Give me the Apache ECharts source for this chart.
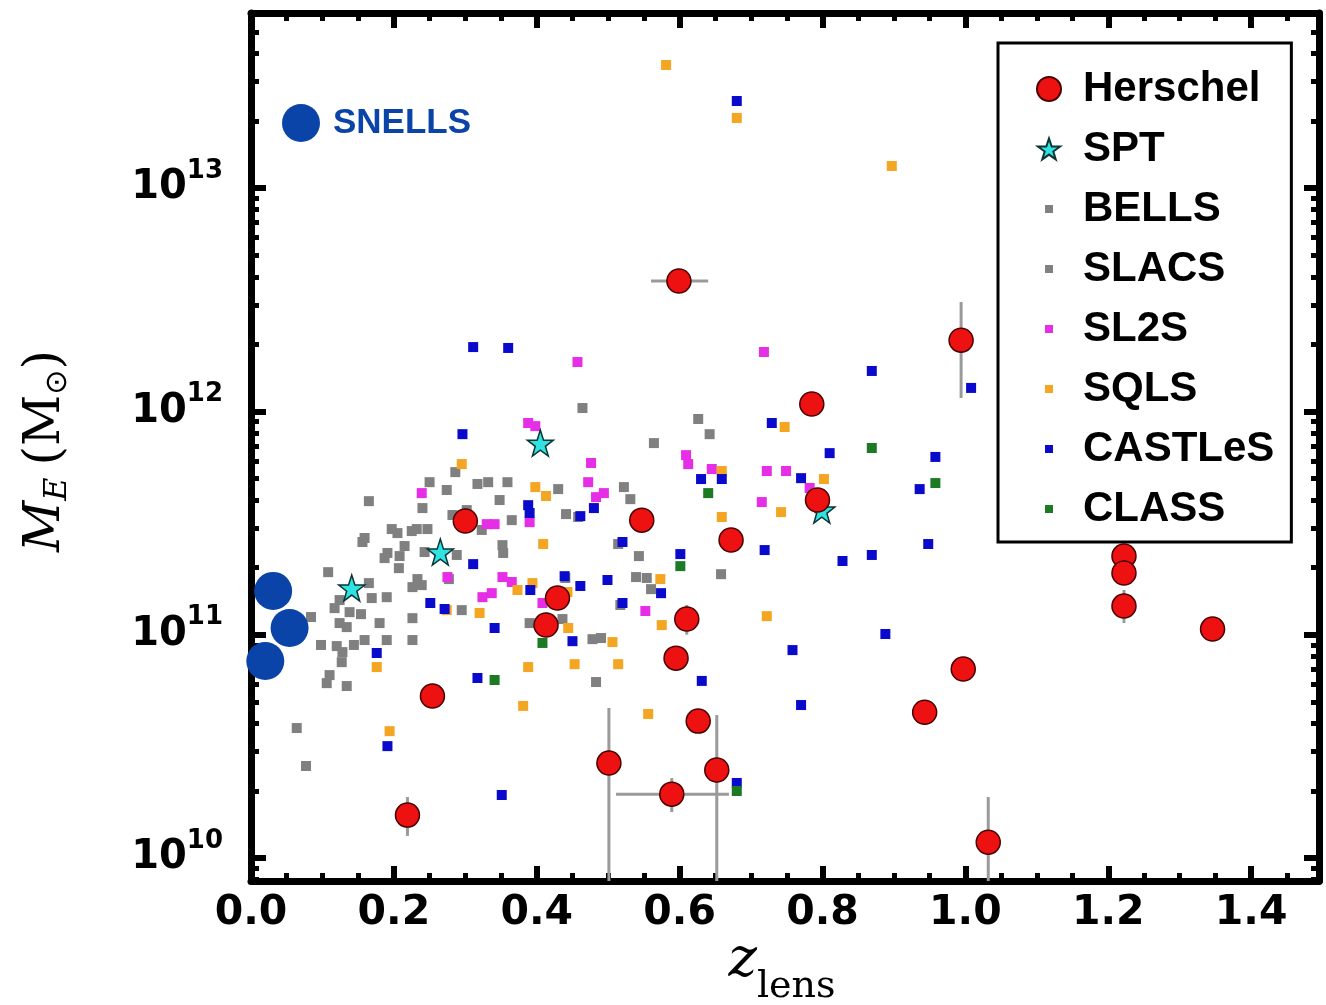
<!DOCTYPE html>
<html><head><meta charset="utf-8">
<script src="https://cdn.jsdelivr.net/npm/echarts@6/dist/echarts.min.js"></script>
<style>html,body{margin:0;padding:0;background:#fff}#c{width:1326px;height:1005px}</style>
</head><body><div id="c"></div>
<script>
// ---- axis ranges / ticks (z_lens, log10 M_E) ----
const X_MIN = 0, X_MAX = 1.495;
const Y_MIN = 9.897, Y_MAX = 13.784;
const xMajorTicks = [0, 0.2, 0.4, 0.6, 0.8, 1.0, 1.2, 1.4];
const xMinorTicks = [0.05,0.1,0.15,0.25,0.3,0.35,0.45,0.5,0.55,0.65,0.7,0.75,0.85,0.9,0.95,1.05,1.1,1.15,1.25,1.3,1.35,1.45];
const yDecades = [10, 11, 12, 13];              // exponents of labelled ticks
const yMinorMultipliers = [2, 3, 4, 5, 6, 7, 8, 9];

// ---- data: [z_lens, log10(M_E / Msun)] ----
const slacs = [[0.286,11.728],[0.250,11.683],[0.274,11.648],[0.317,11.675],[0.332,11.683],[0.359,11.683],[0.348,11.603],[0.165,11.598],[0.240,11.567],[0.282,11.536],[0.302,11.558],[0.365,11.513],[0.197,11.473],[0.205,11.455],[0.225,11.464],[0.232,11.473],[0.247,11.473],[0.159,11.433],[0.156,11.415],[0.323,11.469],[0.215,11.397],[0.191,11.366],[0.187,11.343],[0.208,11.352],[0.243,11.370],[0.288,11.357],[0.352,11.401],[0.353,11.366],[0.207,11.298],[0.108,11.280],[0.233,11.249],[0.226,11.213],[0.239,11.222],[0.277,11.249],[0.165,11.231],[0.124,11.155],[0.117,11.119],[0.169,11.164],[0.190,11.168],[0.138,11.101],[0.154,11.092],[0.084,11.079],[0.180,11.052],[0.226,11.074],[0.124,11.052],[0.134,11.034],[0.295,11.110],[0.098,10.954],[0.120,10.949],[0.128,10.922],[0.144,10.954],[0.159,10.976],[0.190,10.976],[0.226,10.976],[0.127,10.877],[0.110,10.819],[0.106,10.783],[0.134,10.770],[0.064,10.582],[0.077,10.412]];
const bells = [[0.464,12.015],[0.626,11.966],[0.642,11.898],[0.564,11.858],[0.430,11.652],[0.522,11.661],[0.531,11.607],[0.441,11.540],[0.458,11.527],[0.514,11.406],[0.543,11.352],[0.658,11.271],[0.440,11.254],[0.539,11.258],[0.554,11.254],[0.560,11.204],[0.517,11.133],[0.436,11.070],[0.390,11.052],[0.478,10.980],[0.490,10.985],[0.483,10.788]];
const sl2s = [[0.457,12.221],[0.388,11.948],[0.398,11.934],[0.476,11.769],[0.472,11.683],[0.483,11.616],[0.494,11.634],[0.239,11.634],[0.609,11.804],[0.612,11.764],[0.645,11.742],[0.330,11.495],[0.341,11.495],[0.390,11.504],[0.275,11.258],[0.352,11.258],[0.365,11.236],[0.324,11.168],[0.337,11.186],[0.408,11.142],[0.552,11.106],[0.718,12.266],[0.722,11.733],[0.749,11.733],[0.782,11.657],[0.715,11.594]];
const sqls = [[0.581,13.551],[0.680,13.314],[0.897,13.099],[0.295,11.764],[0.398,11.661],[0.413,11.621],[0.409,11.406],[0.394,11.231],[0.373,11.200],[0.320,11.097],[0.274,11.110],[0.443,11.191],[0.573,11.249],[0.176,10.855],[0.194,10.568],[0.444,11.030],[0.506,10.967],[0.388,10.855],[0.453,10.868],[0.514,10.868],[0.381,10.681],[0.556,10.645],[0.575,11.043],[0.747,11.930],[0.659,11.527],[0.802,11.697],[0.742,11.549],[0.722,11.083],[0.659,11.733]];
const castles = [[0.680,13.390],[0.311,12.288],[0.360,12.284],[0.296,11.898],[0.388,11.580],[0.390,11.545],[0.480,11.567],[0.461,11.531],[0.311,11.316],[0.520,11.415],[0.601,11.361],[0.391,11.200],[0.461,11.218],[0.499,11.245],[0.574,11.186],[0.251,11.142],[0.271,11.115],[0.439,11.262],[0.341,11.030],[0.176,10.918],[0.317,10.806],[0.450,10.971],[0.520,11.142],[0.191,10.501],[0.351,10.282],[0.729,11.948],[0.810,11.813],[0.630,11.697],[0.659,11.697],[0.770,11.701],[0.719,11.379],[0.758,10.931],[0.631,10.793],[0.869,12.181],[1.008,12.105],[0.958,11.796],[0.936,11.652],[0.948,11.406],[0.869,11.357],[0.828,11.330],[0.888,11.003],[0.770,10.685],[0.680,10.336]];
const classLenses = [[0.601,11.307],[0.408,10.963],[0.341,10.797],[0.640,11.634],[0.869,11.836],[0.958,11.679],[0.680,10.300]];
const spt = [[0.141,11.209],[0.265,11.370],[0.405,11.858],[0.799,11.558]];
const snells = [[0.031,11.196],[0.054,11.030],[0.020,10.882]];
const herschel = [[0.599,12.584],[0.994,12.319],[0.785,12.033],[0.793,11.603],[0.672,11.424],[0.547,11.513],[0.300,11.509],[0.429,11.164],[0.413,11.043],[0.610,11.070],[0.595,10.895],[0.254,10.725],[0.626,10.613],[0.501,10.425],[0.589,10.286],[0.652,10.394],[0.219,10.192],[1.032,10.071],[0.997,10.846],[0.943,10.653],[1.346,11.025],[1.222,11.352],[1.222,11.276],[1.222,11.128]];
// error ranges aligned with herschel (null = none)
const herschelZRange = [[0.560,0.640],null,null,null,null,null,null,null,null,null,null,null,null,null,[0.511,0.669],null,null,null,null,null,null,null,null,null];
const herschelMRange = [null,[12.060,12.490],null,null,null,null,null,null,[10.99,11.10],[11.00,11.133],null,null,null,[9.80,10.672],[10.206,10.358],[9.80,10.640],[10.099,10.273],[9.80,10.273],null,null,null,null,null,[11.052,11.200]];

// ---- build ----
const yMinorTicks = [];
[9, 10, 11, 12, 13].forEach(n => yMinorMultipliers.forEach(k => {
  const v = n + Math.log10(k);
  if (v > Y_MIN && v < Y_MAX) yMinorTicks.push(v);
}));
const errSegments = [];
herschel.forEach((p, i) => {
  const zr = herschelZRange[i], mr = herschelMRange[i];
  if (zr) errSegments.push([zr[0], p[1], zr[1], p[1]]);
  if (mr) errSegments.push([p[0], Math.max(mr[0], Y_MIN), p[0], Math.min(mr[1], Y_MAX)]);
});

const STAR_PTS = [[50,0],[61.8,35.1],[98.1,35.1],[68.8,56.7],[79.4,90.9],[50,70],[20.6,90.9],[31.2,56.7],[1.9,35.1],[38.2,35.1]];
const starPath = (s, dx, dy) => STAR_PTS.map((p, i) => (i ? 'L' : 'M') + (dx + p[0] * s).toFixed(2) + ',' + (dy + p[1] * s).toFixed(2)).join('') + 'Z';
const STAR = 'path://' + starPath(1, 0, 0);
// legend icons drawn inside a fixed 58x24 box (icon centred at x=29)
const BOX = 'M0,0L0,0M58,24L58,24';
const LG_CIRCLE = 'path://' + BOX + 'M17,12A12,12 0 1 1 41,12A12,12 0 1 1 17,12Z';
const LG_STAR = 'path://' + BOX + starPath(0.23, 29 - 11.5, 1.5);
const LG_SQ = 'path://' + BOX + 'M25,8L33,8L33,16L25,16Z';
const LG_SNELLS = 'path://M0,0L0,0M54,38L54,38M8,19A19,19 0 1 1 46,19A19,19 0 1 1 8,19Z';
const AXF = 'DejaVu Sans';

function xAx(pos, ticks, len, w, line, labels) {
  return {
    type: 'value', min: X_MIN, max: X_MAX, position: pos,
    axisLine: { show: line, onZero: false, lineStyle: { color: '#000', width: 7 } },
    axisTick: { show: true, inside: true, length: len, customValues: ticks, lineStyle: { color: '#000', width: w } },
    axisLabel: labels ? { show: true, customValues: xMajorTicks, formatter: v => v.toFixed(1), margin: 12,
      color: '#000', fontSize: 41, fontWeight: 'bold', fontFamily: AXF } : { show: false },
    splitLine: { show: false }
  };
}
function yAx(pos, ticks, len, w, line, labels) {
  return {
    type: 'value', min: Y_MIN, max: Y_MAX, position: pos,
    axisLine: { show: line, onZero: false, lineStyle: { color: '#000', width: 7 } },
    axisTick: { show: true, inside: true, length: len, customValues: ticks, lineStyle: { color: '#000', width: w } },
    axisLabel: labels ? { show: true, customValues: yDecades, margin: 28,
      formatter: v => '{b|10}{s|' + Math.round(v) + '}',
      rich: {
        b: { fontSize: 40, fontWeight: 'bold', fontFamily: AXF, color: '#000' },
        s: { fontSize: 26, fontWeight: 'bold', fontFamily: AXF, color: '#000', padding: [0, 0, 34, 0] }
      } } : { show: false },
    splitLine: { show: false }
  };
}
const sq = (name, data, color) => ({ name, type: 'scatter', symbol: 'rect', symbolSize: 10, data, itemStyle: { color, opacity: 1 } });

const option = {
  animation: false,
  backgroundColor: '#fff',
  grid: { left: 251, right: 7, top: 13, bottom: 124, containLabel: false },
  xAxis: [
    xAx('bottom', xMajorTicks, 15, 6, true, true),
    xAx('bottom', xMinorTicks, 8, 5, false, false),
    xAx('top', xMajorTicks, 15, 6, true, false),
    xAx('top', xMinorTicks, 8, 5, false, false)
  ],
  yAxis: [
    yAx('left', yDecades, 15, 6, true, true),
    yAx('left', yMinorTicks, 8, 5, false, false),
    yAx('right', yDecades, 15, 6, true, false),
    yAx('right', yMinorTicks, 8, 5, false, false)
  ],
  legend: [
    {
      data: [
        { name: 'Herschel', icon: LG_CIRCLE }, { name: 'SPT', icon: LG_STAR },
        { name: 'BELLS', icon: LG_SQ }, { name: 'SLACS', icon: LG_SQ }, { name: 'SL2S', icon: LG_SQ },
        { name: 'SQLS', icon: LG_SQ }, { name: 'CASTLeS', icon: LG_SQ }, { name: 'CLASS', icon: LG_SQ }
      ],
      orient: 'vertical', left: 998, top: 43,
      itemWidth: 58, itemHeight: 24, itemGap: 18,
      padding: [25, 17, 12, 21],
      borderColor: '#000', borderWidth: 3, backgroundColor: '#fff',
      selectedMode: false, symbolKeepAspect: true,
      textStyle: { fontSize: 42, lineHeight: 42, fontWeight: 'bold', fontFamily: 'Liberation Sans, Arial', color: '#000' }
    },
    {
      data: [{ name: 'SNELLS', icon: LG_SNELLS }],
      left: 274, top: 104, itemWidth: 54, itemHeight: 38, padding: 0,
      selectedMode: false, symbolKeepAspect: true,
      textStyle: { fontSize: 35, fontWeight: 'bold', fontFamily: 'Liberation Sans, Arial', color: '#0b44a8' }
    }
  ],
  graphic: [
    { type: 'text', x: 46, y: 451, rotation: Math.PI / 2, z: 10,
      style: { text: '{mi|M}{sub|E}{p|(M}{sun|⊙}{n|)}', align: 'center', verticalAlign: 'middle',
        rich: {
          mi: { fontFamily: 'DejaVu Serif', fontStyle: 'italic', fontSize: 50, fill: '#000' },
          sub: { fontFamily: 'DejaVu Serif', fontStyle: 'italic', fontSize: 32, padding: [24, 0, 0, 0], fill: '#000' },
          p: { fontFamily: 'DejaVu Serif', fontSize: 50, padding: [0, 0, 0, 12], fill: '#000' },
          sun: { fontFamily: 'DejaVu Sans', fontSize: 30, padding: [24, 0, 0, 0], fill: '#000' },
          n: { fontFamily: 'DejaVu Serif', fontSize: 50, fill: '#000' }
        } } },
    { type: 'text', x: 782, y: 962, z: 10,
      style: { text: '{z|z}{l|lens}', align: 'center', verticalAlign: 'middle',
        rich: {
          z: { fontFamily: 'DejaVu Serif', fontStyle: 'italic', fontSize: 54, fill: '#000' },
          l: { fontFamily: 'DejaVu Serif', fontSize: 38, padding: [50, 0, 0, 0], fill: '#000' }
        } } }
  ],
  series: [
    sq('SLACS', slacs, '#808080'),
    sq('BELLS', bells, '#808080'),
    sq('SL2S', sl2s, '#e62ee6'),
    sq('SQLS', sqls, '#f4a522'),
    sq('CASTLeS', castles, '#0a0acc'),
    sq('CLASS', classLenses, '#1c7a24'),
    {
      name: 'errors', type: 'custom', silent: true, data: errSegments,
      encode: { x: [0, 2], y: [1, 3] },
      renderItem: (params, api) => {
        const a = api.coord([api.value(0), api.value(1)]);
        const b = api.coord([api.value(2), api.value(3)]);
        return { type: 'line', shape: { x1: a[0], y1: a[1], x2: b[0], y2: b[1] },
          style: { stroke: '#9a9a9a', lineWidth: 3 } };
      }
    },
    { name: 'SPT', type: 'scatter', symbol: STAR, symbolSize: 26, data: spt,
      itemStyle: { color: '#2fe3e3', borderColor: '#0b3535', borderWidth: 1.5, opacity: 1 } },
    { name: 'Herschel', type: 'scatter', symbol: 'circle', symbolSize: 24, data: herschel,
      itemStyle: { color: '#ee1111', borderColor: '#4a0000', borderWidth: 1.5, opacity: 1 } },
    { name: 'SNELLS', type: 'scatter', symbol: 'circle', symbolSize: 38, data: snells,
      itemStyle: { color: '#0b44a8', opacity: 1 } }
  ]
};
const chart = echarts.init(document.getElementById('c'), null, { renderer: 'canvas' });
chart.setOption(option);
</script></body></html>
